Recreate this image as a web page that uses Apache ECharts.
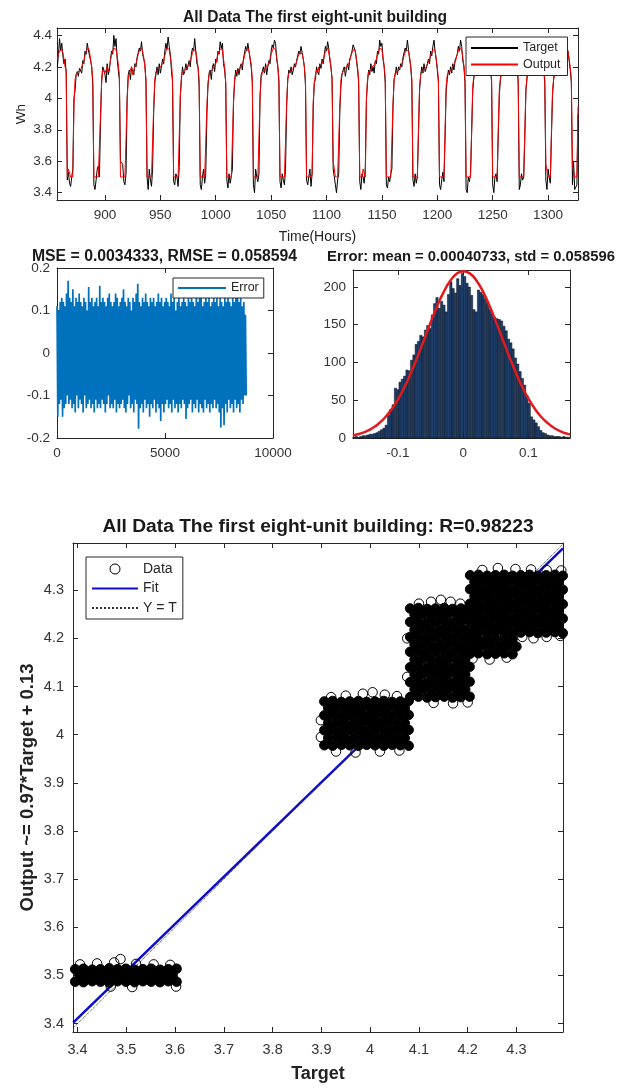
<!DOCTYPE html>
<html><head><meta charset="utf-8">
<script src="https://cdn.jsdelivr.net/npm/echarts@6/dist/echarts.min.js"></script>
<style>html,body{margin:0;padding:0;background:#fff}#chart{width:619px;height:1088px}</style>
</head><body><div id="chart"></div><script>
const FONT = '"Liberation Sans", Arial, Helvetica, sans-serif';

// ---------- Panel 1: time series (hours 857..1327) ----------
const hourStart = 857;
const hourTicks = [900, 950, 1000, 1050, 1100, 1150, 1200, 1250, 1300];
const whTicks = [3.4, 3.6, 3.8, 4, 4.2, 4.4];
const targetWh = [
4.20,4.28,4.38,4.30,4.35,4.27,4.22,4.25,4.16,
3.48,3.53,3.46,3.44,3.50,3.55,4.00,4.05,4.15,4.17,4.14,4.19,4.20,4.16,4.24,4.22,4.30,4.28,4.35,4.31,4.27,4.24,4.20,4.08,
3.45,3.42,3.48,3.55,3.57,3.50,3.85,4.12,4.20,4.18,4.15,4.10,4.22,4.15,4.18,4.25,4.30,4.28,4.40,4.33,4.38,4.25,4.18,4.12,
3.60,3.60,3.58,3.47,3.45,3.52,4.00,4.15,4.18,4.12,4.20,4.17,4.15,4.22,4.20,4.26,4.27,4.32,4.30,4.36,4.28,4.25,4.22,4.10,
3.50,3.42,3.55,3.48,3.44,3.55,3.92,4.10,4.15,4.20,4.15,4.22,4.16,4.20,4.25,4.22,4.30,4.35,4.31,4.39,4.33,4.28,4.18,4.10,
3.47,3.45,3.52,3.50,3.44,3.56,4.02,4.12,4.20,4.15,4.17,4.22,4.18,4.17,4.24,4.20,4.28,4.32,4.30,4.38,4.30,4.22,4.20,4.08,
3.45,3.42,3.50,3.55,3.46,3.52,3.90,4.08,4.16,4.18,4.12,4.20,4.22,4.17,4.25,4.23,4.30,4.28,4.36,4.32,4.35,4.22,4.18,4.10,
3.48,3.43,3.52,3.46,3.50,3.55,3.98,4.10,4.18,4.14,4.19,4.15,4.20,4.22,4.18,4.25,4.26,4.33,4.30,4.35,4.30,4.25,4.20,4.10,
3.45,3.40,3.55,3.50,3.47,3.52,4.02,4.15,4.17,4.20,4.16,4.22,4.15,4.20,4.24,4.22,4.30,4.34,4.32,4.37,4.35,4.25,4.20,4.10,
3.47,3.43,3.52,3.48,3.45,3.55,3.95,4.12,4.18,4.16,4.20,4.15,4.18,4.22,4.20,4.24,4.25,4.30,4.28,4.33,4.29,4.25,4.20,4.08,
3.48,3.45,3.50,3.55,3.44,3.52,3.95,4.10,4.12,4.20,4.17,4.15,4.22,4.19,4.25,4.22,4.28,4.33,4.30,4.36,4.32,4.24,4.20,4.12,
3.55,3.50,3.45,3.40,3.48,3.52,3.92,4.08,4.15,4.18,4.20,4.14,4.19,4.22,4.18,4.25,4.27,4.30,4.34,4.32,4.30,4.24,4.18,4.10,
3.47,3.42,3.52,3.50,3.46,3.56,4.00,4.10,4.18,4.15,4.22,4.17,4.20,4.16,4.24,4.22,4.30,4.28,4.37,4.33,4.35,4.25,4.20,4.10,
3.45,3.43,3.50,3.47,3.52,3.55,3.95,4.12,4.15,4.20,4.15,4.20,4.18,4.22,4.20,4.26,4.27,4.32,4.30,4.37,4.31,4.25,4.20,4.10,
3.48,3.44,3.52,3.46,3.50,3.78,4.05,4.15,4.20,4.16,4.22,4.17,4.19,4.22,4.25,4.22,4.30,4.27,4.33,4.37,4.30,4.25,4.18,4.10,
3.45,3.42,3.48,3.53,3.47,3.75,4.05,4.12,4.18,4.15,4.20,4.16,4.22,4.18,4.24,4.26,4.28,4.33,4.30,4.37,4.33,4.24,4.20,4.10,
3.42,3.40,3.50,3.47,3.52,3.78,4.05,4.13,4.17,4.20,4.15,4.22,4.18,4.20,4.25,4.22,4.28,4.32,4.30,4.35,4.30,4.25,4.20,4.10,
3.45,3.40,3.50,3.52,3.47,3.76,4.02,4.12,4.17,4.15,4.20,4.17,4.22,4.18,4.23,4.25,4.27,4.32,4.31,4.35,4.31,4.24,4.20,4.10,
3.42,3.45,3.52,3.48,3.50,3.75,4.05,4.13,4.20,4.16,4.22,4.18,4.20,4.23,4.20,4.26,4.28,4.33,4.31,4.35,4.30,4.25,4.18,4.10,
3.48,3.42,3.55,3.50,3.46,3.75,4.02,4.12,4.18,4.15,4.20,4.16,4.20,4.18,4.22,4.25,4.27,4.30,4.28,4.32,4.30,4.24,4.18,4.10,
3.45,3.60,3.42,3.42,3.45,3.90
];
const outputWh = [
4.25,4.28,4.30,4.30,4.31,4.29,4.25,4.20,4.18,
3.50,3.55,3.55,3.50,3.50,3.50,3.95,4.12,4.15,4.16,4.17,4.18,4.18,4.20,4.22,4.24,4.27,4.30,4.31,4.32,4.30,4.25,4.20,4.12,
3.50,3.50,3.50,3.50,3.50,3.50,3.90,4.10,4.18,4.17,4.16,4.18,4.20,4.17,4.20,4.24,4.28,4.30,4.32,4.33,4.31,4.27,4.22,4.15,
3.50,3.50,3.50,3.50,3.50,3.50,3.98,4.13,4.16,4.15,4.20,4.15,4.18,4.20,4.22,4.25,4.28,4.30,4.31,4.32,4.30,4.26,4.20,4.12,
3.50,3.50,3.50,3.50,3.50,3.50,3.95,4.12,4.17,4.16,4.18,4.17,4.20,4.20,4.22,4.24,4.27,4.30,4.32,4.33,4.31,4.26,4.22,4.13,
3.50,3.50,3.50,3.50,3.50,3.50,4.00,4.14,4.17,4.17,4.18,4.19,4.19,4.20,4.22,4.24,4.26,4.29,4.31,4.32,4.30,4.25,4.20,4.12,
3.50,3.50,3.50,3.50,3.50,3.50,3.95,4.10,4.15,4.17,4.16,4.18,4.20,4.21,4.22,4.25,4.28,4.30,4.31,4.32,4.30,4.25,4.20,4.10,
3.50,3.50,3.50,3.50,3.50,3.50,3.96,4.12,4.16,4.17,4.17,4.18,4.19,4.20,4.22,4.24,4.27,4.30,4.31,4.32,4.30,4.26,4.22,4.12,
3.50,3.50,3.50,3.50,3.50,3.50,4.00,4.13,4.16,4.16,4.18,4.20,4.19,4.21,4.22,4.25,4.28,4.30,4.32,4.33,4.31,4.26,4.21,4.13,
3.50,3.50,3.50,3.50,3.50,3.50,3.97,4.12,4.16,4.17,4.18,4.18,4.19,4.20,4.21,4.23,4.26,4.28,4.30,4.30,4.28,4.25,4.20,4.12,
3.50,3.50,3.50,3.50,3.50,3.52,3.98,4.10,4.15,4.18,4.16,4.20,4.20,4.21,4.22,4.24,4.27,4.30,4.31,4.32,4.31,4.26,4.20,4.12,
3.60,3.60,3.50,3.50,3.50,3.50,3.95,4.12,4.16,4.16,4.18,4.18,4.20,4.20,4.22,4.24,4.27,4.29,4.31,4.32,4.30,4.25,4.20,4.12,
3.50,3.50,3.50,3.55,3.55,3.50,3.98,4.13,4.17,4.16,4.18,4.20,4.19,4.21,4.22,4.25,4.28,4.30,4.32,4.33,4.31,4.26,4.21,4.13,
3.50,3.50,3.50,3.50,3.50,3.50,3.96,4.12,4.16,4.17,4.17,4.18,4.19,4.20,4.22,4.24,4.27,4.29,4.31,4.32,4.30,4.26,4.21,4.12,
3.50,3.50,3.50,3.50,3.50,3.80,4.08,4.15,4.17,4.18,4.18,4.19,4.20,4.21,4.23,4.25,4.27,4.29,4.31,4.32,4.30,4.25,4.20,4.12,
3.50,3.50,3.50,3.50,3.50,3.80,4.08,4.15,4.16,4.17,4.18,4.19,4.20,4.21,4.22,4.25,4.28,4.30,4.32,4.33,4.31,4.26,4.21,4.12,
3.50,3.50,3.50,3.50,3.50,3.80,4.08,4.14,4.17,4.17,4.18,4.18,4.20,4.21,4.22,4.24,4.27,4.29,4.31,4.32,4.30,4.25,4.20,4.12,
3.50,3.50,3.50,3.50,3.50,3.80,4.06,4.13,4.16,4.17,4.18,4.19,4.20,4.21,4.22,4.24,4.27,4.30,4.31,4.32,4.30,4.26,4.20,4.12,
3.50,3.50,3.50,3.50,3.50,3.80,4.06,4.14,4.16,4.17,4.18,4.19,4.20,4.21,4.22,4.25,4.27,4.30,4.32,4.33,4.31,4.26,4.21,4.12,
3.58,3.58,3.50,3.50,3.50,3.78,4.05,4.12,4.16,4.17,4.17,4.18,4.19,4.20,4.22,4.24,4.26,4.28,4.30,4.31,4.30,4.25,4.20,4.12,
3.58,3.58,3.50,3.50,3.50,3.95
];

// ---------- Panel 2: error over the year ----------
const errorHoursTotal = 8760;
const errorTicksX = [0, 5000, 10000];
const errorTicksY = [-0.2, -0.1, 0, 0.1, 0.2];
const errorValues = [
0.11,-0.15,0.10,-0.12,0.12,-0.11,0.13,-0.15,0.12,-0.13,0.11,-0.12,0.14,-0.10,0.17,-0.12,0.13,-0.11,0.12,-0.13,
0.15,-0.12,0.11,-0.14,0.13,-0.10,0.12,-0.13,0.14,-0.11,0.12,-0.12,0.11,-0.14,0.13,-0.10,0.12,-0.13,0.10,-0.12,
0.155,-0.11,0.12,-0.13,0.13,-0.12,0.11,-0.14,0.12,-0.11,0.13,-0.13,0.11,-0.12,0.158,-0.13,0.12,-0.11,0.13,-0.12,
0.12,-0.14,0.11,-0.12,0.13,-0.10,0.14,-0.13,0.12,-0.12,0.11,-0.13,0.12,-0.11,0.14,-0.14,0.13,-0.12,0.11,-0.13,
0.12,-0.12,0.13,-0.11,0.15,-0.13,0.12,-0.14,0.11,-0.12,0.13,-0.10,0.12,-0.13,0.10,-0.12,0.13,-0.14,0.12,-0.11,
0.14,-0.12,0.163,-0.178,0.12,-0.13,0.11,-0.12,0.13,-0.14,0.12,-0.11,0.14,-0.13,0.12,-0.12,0.11,-0.15,0.13,-0.12,
0.12,-0.13,0.13,-0.11,0.11,-0.14,0.12,-0.12,0.14,-0.13,0.12,-0.16,0.13,-0.12,0.11,-0.14,0.12,-0.12,0.13,-0.11,
0.12,-0.13,0.11,-0.12,0.14,-0.14,0.12,-0.11,0.13,-0.13,0.10,-0.12,0.12,-0.14,0.13,-0.12,0.11,-0.13,0.12,-0.11,
0.13,-0.12,0.12,-0.155,0.11,-0.13,0.14,-0.12,0.12,-0.11,0.13,-0.14,0.12,-0.12,0.11,-0.13,0.16,-0.11,0.12,-0.14,
0.13,-0.12,0.155,-0.13,0.11,-0.14,0.12,-0.11,0.14,-0.13,0.12,-0.12,0.13,-0.14,0.11,-0.12,0.12,-0.13,0.13,-0.11,
0.12,-0.13,0.14,-0.12,0.11,-0.14,0.13,-0.175,0.12,-0.13,0.11,-0.17,0.13,-0.12,0.12,-0.14,0.14,-0.11,0.12,-0.13,
0.11,-0.12,0.13,-0.14,0.12,-0.11,0.14,-0.13,0.15,-0.12,0.12,-0.14,0.13,-0.11,0.11,-0.12,0.12,-0.10,0.09,-0.10
];

// ---------- Panel 3: error histogram ----------
const histBinStart = -0.169;
const histBinWidth = 0.003532;
const histCounts = [
1,2,1,2,3,3,4,5,5,6,
7,9,11,13,17,30,38,44,66,64,
74,78,82,90,89,103,110,124,128,136,
134,143,149,145,163,178,186,172,181,176,
167,190,207,198,192,211,202,218,
214,205,200,189,170,167,196,193,190,184,178,170,
164,160,158,157,155,148,142,131,126,118,
106,98,88,79,70,56,46,28,24,20,
15,10,7,6,4,3,3,2,2,2,1,2,1,1
];
const normalFitX = [-0.169,-0.16,-0.15,-0.14,-0.13,-0.12,-0.11,-0.10,-0.09,-0.08,-0.07,-0.06,-0.05,-0.04,-0.03,-0.02,-0.01,0,0.01,0.02,0.03,0.04,0.05,0.06,0.07,0.08,0.09,0.10,0.11,0.12,0.13,0.14,0.15,0.16,0.1636];
const normalFitY = [3.4,5.2,8.2,12.5,18.6,26.8,37.5,50.9,67.2,86.2,107.4,130,152.7,174.3,193.2,208,217.5,221,218,209,194.5,175.9,154.5,131.8,109.2,87.9,68.7,52.1,38.4,27.5,19.2,12.9,8.5,5.4,4.6];
const histTicksX = [-0.1, 0, 0.1];
const histTicksY = [0, 50, 100, 150, 200];

// ---------- Panel 4: regression ----------
const regTicks = [3.4, 3.5, 3.6, 3.7, 3.8, 3.9, 4, 4.1, 4.2, 4.3];
const fitLine = [[3.391, 3.402], [4.3955, 4.387]];
const identityLine = [[3.391, 3.391], [4.3955, 4.3955]];
const dataCore = [
[3.395,3.487],[3.412,3.486],[3.430,3.488],[3.447,3.487],[3.465,3.485],[3.482,3.488],[3.499,3.487],[3.517,3.486],[3.534,3.488],[3.551,3.487],[3.569,3.486],[3.586,3.488],[3.603,3.487],
[3.404,3.501],[3.421,3.500],[3.438,3.499],[3.456,3.501],[3.473,3.500],[3.491,3.502],[3.508,3.500],[3.525,3.499],[3.543,3.501],[3.560,3.500],[3.577,3.502],[3.595,3.500],
[3.395,3.513],[3.412,3.514],[3.430,3.512],[3.447,3.513],[3.465,3.515],[3.482,3.513],[3.499,3.514],[3.517,3.512],[3.534,3.513],[3.551,3.514],[3.569,3.512],[3.586,3.513],[3.603,3.514],
[3.906,3.978],[3.923,3.977],[3.941,3.979],[3.958,3.978],[3.976,3.977],[3.993,3.979],[4.010,3.978],[4.028,3.977],[4.045,3.979],[4.062,3.978],[4.079,3.977],
[3.914,3.993],[3.932,3.994],[3.949,3.992],[3.967,3.993],[3.984,3.994],[4.002,3.992],[4.019,3.993],[4.036,3.994],[4.054,3.992],[4.071,3.993],
[3.906,4.009],[3.923,4.010],[3.941,4.008],[3.958,4.009],[3.976,4.010],[3.993,4.008],[4.010,4.009],[4.028,4.010],[4.045,4.008],[4.062,4.009],[4.079,4.010],
[3.914,4.024],[3.932,4.025],[3.949,4.023],[3.967,4.024],[3.984,4.025],[4.002,4.023],[4.019,4.024],[4.036,4.025],[4.054,4.023],[4.071,4.024],
[3.906,4.040],[3.923,4.041],[3.941,4.039],[3.958,4.040],[3.976,4.041],[3.993,4.039],[4.010,4.040],[4.028,4.041],[4.045,4.039],[4.062,4.040],[4.079,4.041],
[3.914,4.055],[3.932,4.056],[3.949,4.054],[3.967,4.055],[3.984,4.056],[4.002,4.054],[4.019,4.055],[4.036,4.056],[4.054,4.054],[4.071,4.055],
[3.906,4.069],[3.923,4.070],[3.941,4.068],[3.958,4.069],[3.976,4.070],[3.993,4.068],[4.010,4.069],[4.028,4.070],[4.045,4.068],[4.062,4.069],[4.079,4.070],
[4.082,4.078],[4.099,4.079],[4.117,4.077],[4.134,4.078],[4.152,4.079],[4.169,4.077],[4.186,4.078],[4.204,4.079],
[4.091,4.094],[4.108,4.095],[4.125,4.093],[4.143,4.094],[4.160,4.095],[4.178,4.093],[4.195,4.094],
[4.082,4.109],[4.099,4.110],[4.117,4.108],[4.134,4.109],[4.152,4.110],[4.169,4.108],[4.186,4.109],[4.204,4.110],
[4.091,4.125],[4.108,4.126],[4.125,4.124],[4.143,4.125],[4.160,4.126],[4.178,4.124],[4.195,4.125],
[4.082,4.140],[4.099,4.141],[4.117,4.139],[4.134,4.140],[4.152,4.141],[4.169,4.139],[4.186,4.140],[4.204,4.141],
[4.091,4.156],[4.108,4.157],[4.125,4.155],[4.143,4.156],[4.160,4.157],[4.178,4.155],[4.195,4.156],
[4.082,4.172],[4.099,4.173],[4.117,4.171],[4.134,4.172],[4.152,4.173],[4.169,4.171],[4.186,4.172],[4.204,4.173],
[4.091,4.187],[4.108,4.188],[4.125,4.186],[4.143,4.187],[4.160,4.188],[4.178,4.186],[4.195,4.187],
[4.082,4.203],[4.099,4.204],[4.117,4.202],[4.134,4.203],[4.152,4.204],[4.169,4.202],[4.186,4.203],[4.204,4.204],
[4.091,4.218],[4.108,4.219],[4.125,4.217],[4.143,4.218],[4.160,4.219],[4.178,4.217],[4.195,4.218],
[4.082,4.234],[4.099,4.235],[4.117,4.233],[4.134,4.234],[4.152,4.235],[4.169,4.233],[4.186,4.234],[4.204,4.235],
[4.091,4.250],[4.108,4.251],[4.125,4.249],[4.143,4.250],[4.160,4.251],[4.178,4.249],[4.195,4.250],
[4.082,4.262],[4.099,4.263],[4.117,4.261],[4.134,4.262],[4.152,4.263],[4.169,4.261],[4.186,4.262],[4.204,4.263],
[4.205,4.168],[4.222,4.169],[4.240,4.167],[4.257,4.168],[4.275,4.169],[4.292,4.167],
[4.214,4.184],[4.231,4.185],[4.248,4.183],[4.266,4.184],[4.283,4.185],[4.300,4.183],
[4.205,4.199],[4.222,4.200],[4.240,4.198],[4.257,4.199],[4.275,4.200],[4.292,4.198],
[4.205,4.212],[4.222,4.213],[4.240,4.211],[4.257,4.212],[4.275,4.213],[4.292,4.211],[4.309,4.212],[4.327,4.213],[4.344,4.211],[4.361,4.212],[4.379,4.213],[4.395,4.211],
[4.214,4.227],[4.231,4.228],[4.248,4.226],[4.266,4.227],[4.283,4.228],[4.301,4.226],[4.318,4.227],[4.335,4.228],[4.353,4.226],[4.370,4.227],[4.387,4.228],
[4.205,4.242],[4.222,4.243],[4.240,4.241],[4.257,4.242],[4.275,4.243],[4.292,4.241],[4.309,4.242],[4.327,4.243],[4.344,4.241],[4.361,4.242],[4.379,4.243],[4.395,4.241],
[4.214,4.257],[4.231,4.258],[4.248,4.256],[4.266,4.257],[4.283,4.258],[4.301,4.256],[4.318,4.257],[4.335,4.258],[4.353,4.256],[4.370,4.257],[4.387,4.258],
[4.205,4.272],[4.222,4.273],[4.240,4.271],[4.257,4.272],[4.275,4.273],[4.292,4.271],[4.309,4.272],[4.327,4.273],[4.344,4.271],[4.361,4.272],[4.379,4.273],[4.395,4.271],
[4.214,4.287],[4.231,4.288],[4.248,4.286],[4.266,4.287],[4.283,4.288],[4.301,4.286],[4.318,4.287],[4.335,4.288],[4.353,4.286],[4.370,4.287],[4.387,4.288],
[4.205,4.302],[4.222,4.303],[4.240,4.301],[4.257,4.302],[4.275,4.303],[4.292,4.301],[4.309,4.302],[4.327,4.303],[4.344,4.301],[4.361,4.302],[4.379,4.303],[4.395,4.301],
[4.214,4.317],[4.231,4.318],[4.248,4.316],[4.266,4.317],[4.283,4.318],[4.301,4.316],[4.318,4.317],[4.335,4.318],[4.353,4.316],[4.370,4.317],[4.387,4.318],
[4.205,4.331],[4.222,4.332],[4.240,4.330],[4.257,4.331],[4.275,4.332],[4.292,4.330],[4.309,4.331],[4.327,4.332],[4.344,4.330],[4.361,4.331],[4.379,4.332],[4.395,4.330]
];
const dataOpen = [
[3.405,3.523],[3.440,3.525],[3.475,3.527],[3.488,3.534],[3.520,3.524],[3.556,3.523],[3.590,3.522],[3.468,3.477],[3.512,3.476],[3.602,3.477],
[3.920,4.078],[3.950,4.081],[3.985,4.085],[4.005,4.088],[4.030,4.083],[4.055,4.080],[3.930,3.965],[3.970,3.963],[4.020,3.965],[4.060,3.967],[3.899,4.030],[3.899,3.995],
[4.100,4.272],[4.125,4.276],[4.145,4.280],[4.165,4.276],[4.185,4.272],[4.130,4.066],[4.170,4.065],[4.200,4.067],[4.076,4.200],[4.076,4.120],
[4.230,4.342],[4.262,4.346],[4.298,4.344],[4.330,4.343],[4.362,4.342],[4.392,4.341],[4.312,4.203],[4.335,4.200],[4.362,4.203],[4.390,4.205],[4.210,4.158],[4.245,4.156],[4.280,4.160]
];

// ---------- helpers ----------
const AX = '#262626';
const plainNum = v => String(v);
function axis(gridIndex, position, min, max, ticks, labels, fontSize, margin, extra) {
  return Object.assign({
    type: 'value', gridIndex: gridIndex, position: position, min: min, max: max,
    axisLine: { show: true, onZero: false, lineStyle: { color: AX, width: 1 } },
    axisTick: { show: true, inside: true, length: 5, customValues: ticks, lineStyle: { color: AX, width: 1 } },
    axisLabel: { show: labels, customValues: ticks, formatter: plainNum, color: '#333', fontSize: fontSize, fontFamily: FONT, margin: margin },
    splitLine: { show: false }
  }, extra || {});
}
function nameStyle(size, bold) {
  return { fontSize: size, fontFamily: FONT, color: '#222', fontWeight: bold ? 'bold' : 'normal' };
}
function legendBase(extra) {
  return Object.assign({
    orient: 'vertical', backgroundColor: '#fff', borderColor: AX, borderWidth: 1, borderRadius: 0,
    selectedMode: false, z: 20
  }, extra);
}
const noMarker = { color: 'rgba(0,0,0,0)', borderColor: 'rgba(0,0,0,0)', borderWidth: 0, opacity: 0 };

const chart = echarts.init(document.getElementById('chart'), null, { renderer: 'canvas' });
const option = {
  animation: false,
  backgroundColor: '#fff',
  textStyle: { fontFamily: FONT },
  title: [
    { text: 'All Data The first eight-unit building', left: 315, top: 10, textAlign: 'center', padding: 0,
      textStyle: { fontSize: 15.6, fontWeight: 'bold', color: '#1a1a1a', fontFamily: FONT } },
    { text: 'MSE = 0.0034333, RMSE = 0.058594', left: 164.5, top: 249, textAlign: 'center', padding: 0,
      textStyle: { fontSize: 15.8, fontWeight: 'bold', color: '#1a1a1a', fontFamily: FONT } },
    { text: 'Error: mean = 0.00040733, std = 0.058596', left: 471, top: 249, textAlign: 'center', padding: 0,
      textStyle: { fontSize: 14.8, fontWeight: 'bold', color: '#1a1a1a', fontFamily: FONT } },
    { text: 'All Data The first eight-unit building: R=0.98223', left: 318, top: 517, textAlign: 'center', padding: 0,
      textStyle: { fontSize: 19.2, fontWeight: 'bold', color: '#1a1a1a', fontFamily: FONT } }
  ],
  grid: [
    { left: 57, top: 28, width: 521, height: 172, outerBoundsMode: 'none' },
    { left: 57, top: 268, width: 216, height: 170, outerBoundsMode: 'none' },
    { left: 353, top: 270, width: 217, height: 168, outerBoundsMode: 'none' },
    { left: 73, top: 543, width: 490, height: 489, outerBoundsMode: 'none' }
  ],
  xAxis: [
    axis(0, 'bottom', 856.7, 1327, hourTicks, true, 13.5, 8,
      { name: 'Time(Hours)', nameLocation: 'middle', nameGap: 30, nameMoveOverlap: false, nameTextStyle: nameStyle(14, false) }),
    axis(0, 'top', 856.7, 1327, hourTicks, false, 13.5, 8),
    axis(1, 'bottom', 0, 10000, errorTicksX, true, 13.5, 8),
    axis(1, 'top', 0, 10000, errorTicksX, false, 13.5, 8),
    axis(2, 'bottom', -0.1687, 0.1636, histTicksX, true, 13.5, 8),
    axis(2, 'top', -0.1687, 0.1636, histTicksX, false, 13.5, 8),
    axis(3, 'bottom', 3.3906, 4.3955, regTicks, true, 14.5, 10,
      { name: 'Target', nameLocation: 'middle', nameGap: 33, nameMoveOverlap: false, nameTextStyle: nameStyle(18, true) }),
    axis(3, 'top', 3.3906, 4.3955, regTicks, false, 14.5, 10)
  ],
  yAxis: [
    axis(0, 'left', 3.3535, 4.447, whTicks, true, 13.5, 5,
      { name: 'Wh', nameLocation: 'middle', nameGap: 29, nameMoveOverlap: false, nameTextStyle: nameStyle(13.5, false) }),
    axis(0, 'right', 3.3535, 4.447, whTicks, false, 13.5, 5),
    axis(1, 'left', -0.2, 0.2, errorTicksY, true, 13.5, 7),
    axis(1, 'right', -0.2, 0.2, errorTicksY, false, 13.5, 7),
    axis(2, 'left', 0, 222.5, histTicksY, true, 13.5, 7),
    axis(2, 'right', 0, 222.5, histTicksY, false, 13.5, 7),
    axis(3, 'left', 3.3826, 4.398, regTicks, true, 14.5, 9,
      { name: 'Output ~= 0.97*Target + 0.13', nameLocation: 'middle', nameGap: 36, nameMoveOverlap: false, nameTextStyle: nameStyle(18.5, true) }),
    axis(3, 'right', 3.3826, 4.398, regTicks, false, 14.5, 9)
  ],
  legend: [
    legendBase({ data: [{ name: 'Target', itemStyle: noMarker }, { name: 'Output', itemStyle: noMarker }],
      left: 466, top: 37, padding: [4, 7, 4, 4],
      itemWidth: 47, itemHeight: 14, itemGap: 2.5,
      textStyle: { fontSize: 12.5, fontFamily: FONT, color: '#262626', lineHeight: 14 } }),
    legendBase({ data: [{ name: 'Error', itemStyle: noMarker }], left: 173, top: 278, padding: [3, 5, 3, 4],
      itemWidth: 48, itemHeight: 14,
      textStyle: { fontSize: 12.5, fontFamily: FONT, color: '#262626', lineHeight: 14 } }),
    legendBase({ data: [
        { name: 'Data', icon: 'circle', itemStyle: { color: 'rgba(0,0,0,0)', borderColor: '#000', borderWidth: 1, opacity: 1 } },
        { name: 'Fit', itemStyle: noMarker }, { name: 'Y = T', itemStyle: noMarker }],
      left: 86, top: 557, padding: [4, 6, 3, 5], itemWidth: 46, itemHeight: 10, itemGap: 3.5,
      textStyle: { fontSize: 14, fontFamily: FONT, color: '#262626', lineHeight: 16 } })
  ],
  series: [
    { type: 'line', name: 'Target', xAxisIndex: 0, yAxisIndex: 0, symbol: 'none',
      data: targetWh.map((v, i) => [hourStart + i, v]),
      lineStyle: { color: '#000', width: 1 }, itemStyle: { color: '#000' }, z: 2 },
    { type: 'line', name: 'Output', xAxisIndex: 0, yAxisIndex: 0, symbol: 'none',
      data: outputWh.map((v, i) => [hourStart + i, v]),
      lineStyle: { color: '#ff0000', width: 1 }, itemStyle: { color: '#ff0000' }, z: 3 },
    { type: 'line', name: 'Error', xAxisIndex: 2, yAxisIndex: 2, symbol: 'none', sampling: null,
      data: errorValues.map((v, i) => [1 + i * (errorHoursTotal - 1) / (errorValues.length - 1), v]),
      lineStyle: { color: '#0072BD', width: 1.7 }, itemStyle: { color: '#0072BD' }, z: 2 },
    { type: 'custom', name: 'Histogram', xAxisIndex: 4, yAxisIndex: 4,
      data: histCounts.map((c, i) => [histBinStart + i * histBinWidth, histBinStart + (i + 1) * histBinWidth, c]),
      encode: { x: [0, 1], y: 2 },
      renderItem: function (params, api) {
        const p0 = api.coord([api.value(0), api.value(2)]);
        const p1 = api.coord([api.value(1), 0]);
        return { type: 'rect', shape: { x: p0[0], y: p0[1], width: p1[0] - p0[0], height: p1[1] - p0[1] },
          style: { fill: '#1f3f6a', stroke: '#081220', lineWidth: 0.5 } };
      }, z: 2 },
    { type: 'line', name: 'Normal fit', xAxisIndex: 4, yAxisIndex: 4, symbol: 'none', smooth: true,
      data: normalFitX.map((x, i) => [x, normalFitY[i]]),
      lineStyle: { color: '#e3191c', width: 2.5 }, itemStyle: { color: '#e3191c' }, z: 5 },
    { type: 'line', name: 'Fit', xAxisIndex: 6, yAxisIndex: 6, symbol: 'none', data: fitLine,
      lineStyle: { color: '#0d0dcc', width: 2.5 }, itemStyle: { color: '#0d0dcc' }, z: 1 },
    { type: 'line', name: 'Y = T', xAxisIndex: 6, yAxisIndex: 6, symbol: 'none', data: identityLine,
      lineStyle: { color: '#333', width: 1, type: 'dotted' }, itemStyle: { color: '#333' }, z: 1 },
    { type: 'scatter', name: 'Data', xAxisIndex: 6, yAxisIndex: 6, symbol: 'circle', symbolSize: 9.5,
      data: dataCore, itemStyle: { color: '#000', borderColor: '#000', borderWidth: 1, opacity: 1 }, z: 10 },
    { type: 'scatter', name: 'Data', xAxisIndex: 6, yAxisIndex: 6, symbol: 'circle', symbolSize: 9.5,
      data: dataOpen, itemStyle: { color: 'rgba(0,0,0,0)', borderColor: '#000', borderWidth: 1, opacity: 1 }, z: 10 }
  ]
};
chart.setOption(option);
</script></body></html>
